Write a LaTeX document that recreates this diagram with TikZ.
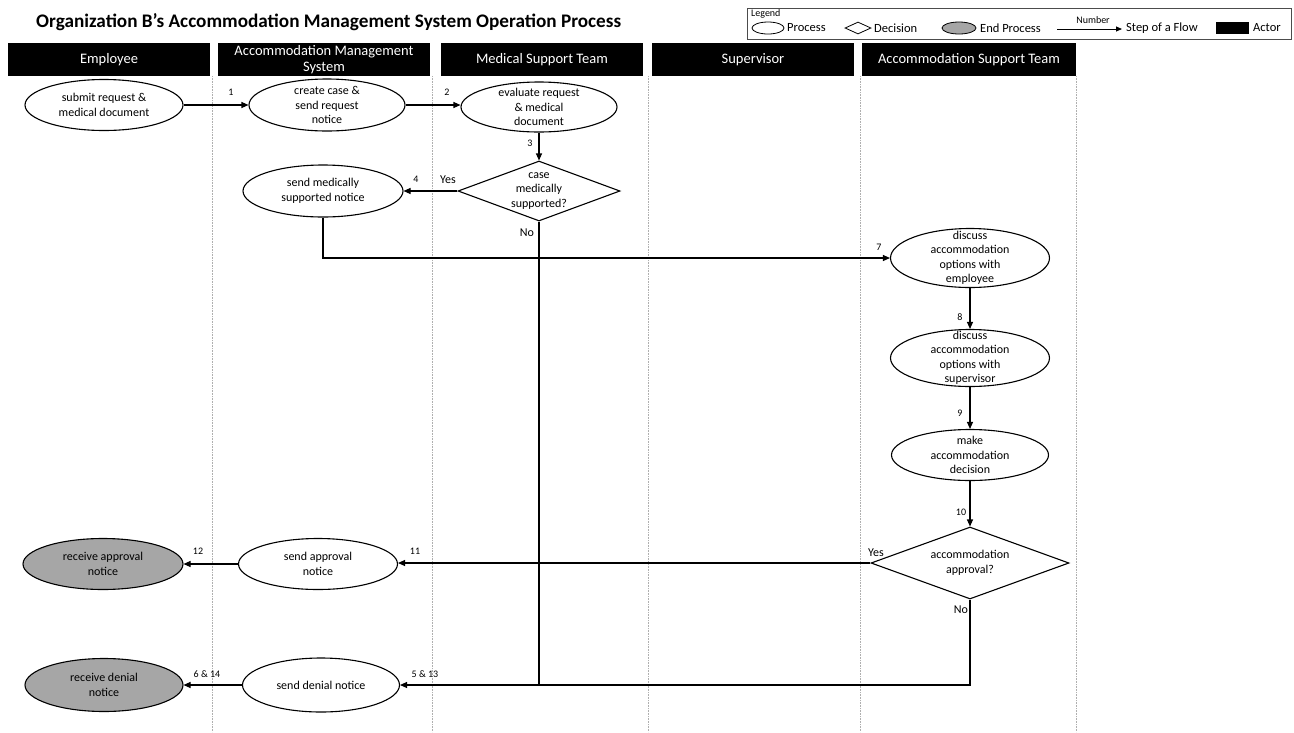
\documentclass[tikz,border=0pt]{standalone}
\usepackage{fontspec}
\setmainfont{Carlito}
\usetikzlibrary{shapes.geometric,arrows.meta}

\definecolor{endgray}{RGB}{166,166,166}
\definecolor{lanegray}{RGB}{175,175,175}

\tikzset{
  actor/.style={fill=black, text=white, align=center, inner sep=0pt,
    font=\fontsize{14.5}{16}\selectfont, minimum height=33pt},
  ptext/.style={align=center, inner sep=0pt, font=\fontsize{12}{14.5}\selectfont},
  proc/.style={ellipse, draw, line width=1.1pt, inner sep=0pt,
    minimum width=158pt, minimum height=51pt, label={[ptext]center:{#1}}},
  endproc/.style={proc={#1}, fill=endgray},
  decide/.style={diamond, draw, line width=1.1pt, inner sep=0pt, label={[ptext]center:{#1}}},
  flow/.style={line width=1.1pt, -{Triangle[length=7pt,width=6pt]}},
  plain/.style={line width=1.1pt},
  num/.style={inner sep=0pt, font=\fontsize{10}{12}\selectfont},
  yn/.style={inner sep=0pt, font=\fontsize{12}{14}\selectfont},
  lane/.style={lanegray, line width=0.6pt, densely dotted},
  leg/.style={inner sep=0pt, anchor=west, font=\fontsize{12.5}{14}\selectfont}
}

\begin{document}
\begin{tikzpicture}[x=1pt,y=-1pt]
  \useasboundingbox[fill=white] (0,0) rectangle (1294,732);

  % title and legend
  \node[inner sep=0pt, anchor=west, font=\fontsize{19.2}{22}\bfseries] (title) at (36,22)
    {Organization B’s Accommodation Management System Operation Process};
  \draw[line width=0.8pt, black!70] (747,8) rectangle (1291,39);
  \node[inner sep=0pt, anchor=west, font=\fontsize{10}{11}\selectfont] (legtitle) at (751,14) {Legend};
  \node[ellipse, draw, line width=0.8pt, minimum width=32pt, minimum height=12pt, inner sep=0pt] (legproc) at (768,28) {};
  \node[leg] (legproct) at (787,28) {Process};
  \node[diamond, draw, line width=0.8pt, minimum width=26pt, minimum height=12pt, inner sep=0pt] (legdec) at (858,28) {};
  \node[leg] (legdect) at (874,28) {Decision};
  \node[ellipse, draw, fill=endgray, line width=0.8pt, minimum width=34pt, minimum height=12pt, inner sep=0pt] (legend) at (959,28) {};
  \node[leg] (legendt) at (980,28) {End Process};
  \coordinate (legarrA) at (1057,29);
  \coordinate (legarrB) at (1122,29);
  \draw[line width=0.8pt, -{Triangle[length=6pt,width=5pt]}] (legarrA) -- (legarrB);
  \node[inner sep=0pt, font=\fontsize{10}{11}\selectfont] (legnum) at (1093,20) {Number};
  \node[leg] (legstep) at (1126,28) {Step of a Flow};
  \node[fill=black, minimum width=33pt, minimum height=12pt, inner sep=0pt] (legact) at (1232,28) {};
  \node[leg] (legactt) at (1253,28) {Actor};

  % actors
  \node[actor, minimum width=202pt] (hEmp) at (109,59.5) {Employee};
  \node[actor, minimum width=212pt] (hAms) at (324,59.5) {Accommodation Management\\System};
  \node[actor, minimum width=202pt] (hMst) at (542,59.5) {Medical Support Team};
  \node[actor, minimum width=202pt] (hSup) at (753,59.5) {Supervisor};
  \node[actor, minimum width=214pt] (hAst) at (969,59.5) {Accommodation Support Team};

  % lanes
  \foreach \lx in {212,432,648,860,1076}
    \draw[lane] (\lx,76) -- (\lx,732);

  % processes
  \node[proc={submit request \&\\medical document}] (submit) at (104,105) {};
  \node[proc={create case \&\\send request\\notice}, minimum width=156pt, minimum height=52pt] (create) at (327,105) {};
  \node[proc={evaluate request\\\& medical\\document}, minimum width=156pt, minimum height=50pt] (evaluate) at (539,107) {};
  \node[decide={case\\medically\\supported?}, minimum width=162pt, minimum height=60pt] (caseok) at (539,191) {};
  \node[proc={send medically\\supported notice}, minimum width=160pt, minimum height=52pt] (sendmed) at (323,191) {};
  \node[proc={discuss\\accommodation\\options with\\employee}, minimum width=159pt, minimum height=59pt] (talkemp) at (970,258) {};
  \node[proc={discuss\\accommodation\\options with\\supervisor}, minimum width=159pt, minimum height=57pt] (talksup) at (970,358) {};
  \node[proc={make\\accommodation\\decision}, minimum width=157pt] (decision) at (970,455) {};
  \node[decide={accommodation\\approval?}, minimum width=198pt, minimum height=72pt] (approved) at (970,563) {};
  \node[proc={send approval\\notice}, minimum width=159pt] (sendappr) at (318,564) {};
  \node[endproc={receive approval\\notice}, minimum width=160pt] (recvappr) at (103,564) {};
  \node[proc={send denial notice}, minimum width=157pt, minimum height=54pt] (senddeny) at (321,685) {};
  \node[endproc={receive denial\\notice}, minimum height=53pt] (recvdeny) at (104,685) {};

  % step numbers
  \node[num] (s1) at (231,92) {1};
  \node[num] (s2) at (447,92) {2};
  \node[num] (s3) at (530,143) {3};
  \node[num] (s4) at (416,179) {4};
  \node[num] (s7) at (879,247) {7};
  \node[num] (s8) at (960,317) {8};
  \node[num] (s9) at (960,413) {9};
  \node[num] (s10) at (961,512) {10};
  \node[num] (s11) at (415,551) {11};
  \node[num] (s12) at (198,551) {12};
  \node[num] (s513) at (425,674) {5 \& 13};
  \node[num] (s614) at (207,674) {6 \& 14};
  \node[yn] (yes1) at (448,180) {Yes};
  \node[yn] (no1) at (527,233) {No};
  \node[yn] (yes2) at (876,553) {Yes};
  \node[yn] (no2) at (961,610) {No};

  % flows
  \draw[flow] (submit) -- (create);
  \draw[flow] (create.east) -- (create.east -| evaluate.west);
  \draw[flow] (evaluate) -- (caseok);
  \draw[flow] (caseok) -- (sendmed);
  \draw[flow] (sendmed.south) |- (talkemp.west);
  \draw[flow] (talkemp) -- (talksup);
  \draw[flow] (talksup) -- (decision);
  \draw[flow] (decision) -- (approved);
  \draw[flow] (approved.west) -- (approved.west -| sendappr.east);
  \draw[flow] (sendappr) -- (recvappr);
  \draw[flow] (approved.south) |- (senddeny.east);
  \draw[plain] (caseok.south) -- (caseok.south |- senddeny.east);
  \draw[flow] (senddeny) -- (recvdeny);
\end{tikzpicture}
\end{document}
